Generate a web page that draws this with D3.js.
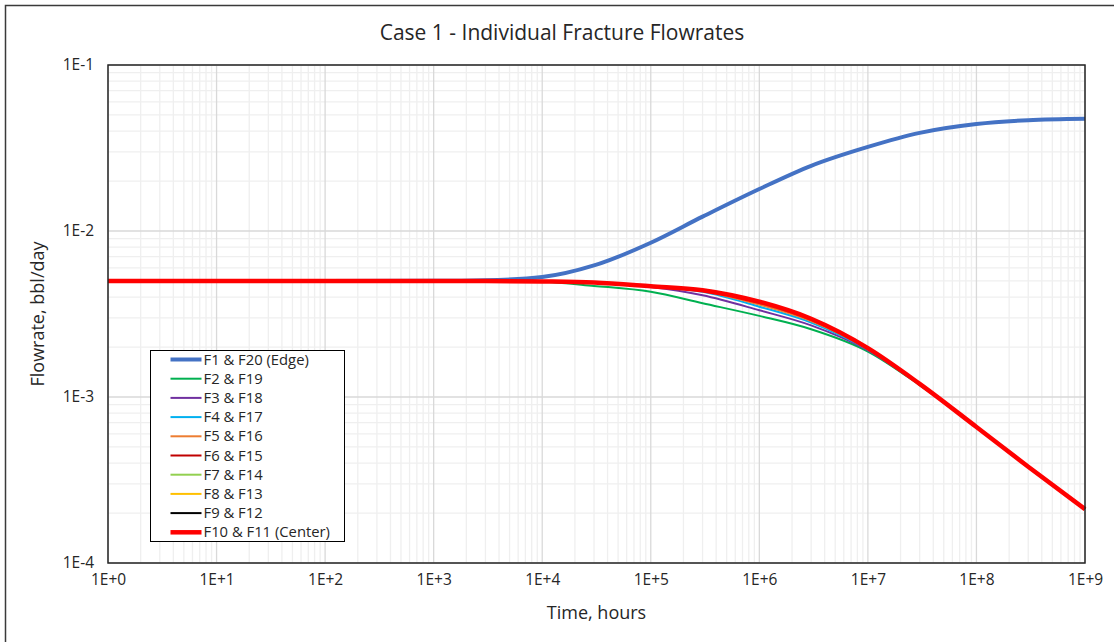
<!DOCTYPE html>
<html>
<head>
<meta charset="utf-8">
<script src="https://cdn.jsdelivr.net/npm/d3@7"></script>
<style>
  body { margin: 0; background: #fff; }
  text { font-family: "Open Sans", "Liberation Sans", sans-serif; fill: #262626; }
</style>
</head>
<body>
<div class="chart-wrapper"></div>
<script>
// time, hours
const times = [1, 1e1, 1e2, 1e3, 3e3, 1e4, 3e4, 1e5, 3e5, 1e6, 3e6, 1e7, 3e7, 1e8, 3e8, 1e9]

// flowrates, bbl/day
const edge   = [0.005, 0.005, 0.005, 0.00501, 0.00505, 0.00528, 0.0062, 0.0085, 0.0122, 0.0179, 0.0247, 0.0321, 0.039, 0.0441, 0.0465, 0.0474]
const f2     = [0.005, 0.005, 0.005, 0.005, 0.005, 0.00495, 0.00467, 0.0043, 0.00367, 0.00308, 0.00256, 0.00188, 0.00118, 0.00066, 0.00038, 0.000211]
const f3     = [0.005, 0.005, 0.005, 0.005, 0.005, 0.00497, 0.0049, 0.0046, 0.0041, 0.00333, 0.0027, 0.00191, 0.00119, 0.00066, 0.00038, 0.000211]
const f4     = [0.005, 0.005, 0.005, 0.005, 0.005, 0.00497, 0.0049, 0.00463, 0.0043, 0.0035, 0.00281, 0.00193, 0.0012, 0.00066, 0.00038, 0.000211]
const f5     = [0.005, 0.005, 0.005, 0.005, 0.005, 0.00497, 0.0049, 0.00464, 0.00435, 0.0036, 0.00287, 0.00195, 0.0012, 0.00066, 0.00038, 0.000211]
const f6     = [0.005, 0.005, 0.005, 0.005, 0.005, 0.00497, 0.0049, 0.00465, 0.00437, 0.0037, 0.00292, 0.00196, 0.0012, 0.00066, 0.00038, 0.000211]
const f7     = [0.005, 0.005, 0.005, 0.005, 0.005, 0.00497, 0.0049, 0.00465, 0.00438, 0.0037, 0.00293, 0.00196, 0.0012, 0.00066, 0.00038, 0.000211]
const f8     = [0.005, 0.005, 0.005, 0.005, 0.005, 0.00497, 0.0049, 0.00465, 0.00439, 0.00373, 0.00294, 0.00197, 0.0012, 0.00066, 0.00038, 0.000211]
const f9     = [0.005, 0.005, 0.005, 0.005, 0.005, 0.00497, 0.0049, 0.00465, 0.0044, 0.00374, 0.00295, 0.00197, 0.0012, 0.00066, 0.00038, 0.000211]
const center = [0.005, 0.005, 0.005, 0.005, 0.005, 0.00497, 0.0049, 0.00465, 0.0044, 0.00375, 0.00296, 0.00197, 0.0012, 0.00066, 0.00038, 0.000211]

const seriesNames = ['F1 & F20 (Edge)', 'F2 & F19', 'F3 & F18', 'F4 & F17', 'F5 & F16', 'F6 & F15', 'F7 & F14', 'F8 & F13', 'F9 & F12', 'F10 & F11 (Center)']
const seriesColors = ['#4472c4', '#00b050', '#7030a0', '#00b0f0', '#ed7d31', '#c00000', '#92d050', '#ffc000', '#000000', '#ff0000']
const seriesWidths = [4, 2, 2, 2, 2, 2, 2, 2, 2, 4.5]
const seriesValues = [edge, f2, f3, f4, f5, f6, f7, f8, f9, center]

const xTicks = [1, 1e1, 1e2, 1e3, 1e4, 1e5, 1e6, 1e7, 1e8, 1e9]
const xTickLabels = ['1E+0', '1E+1', '1E+2', '1E+3', '1E+4', '1E+5', '1E+6', '1E+7', '1E+8', '1E+9']
const yTicks = [1e-4, 1e-3, 1e-2, 1e-1]
const yTickLabels = ['1E-4', '1E-3', '1E-2', '1E-1']

const width = 1114, height = 642
const margin = {left: 108, right: 29, top: 65, bottom: 79}

const svg = d3.select('.chart-wrapper')
.append('svg')
.attr('width', width)
.attr('height', height)

// outer chart frame
svg.append('rect')
.attr('x', 5.5).attr('y', 5.5)
.attr('width', width + 10).attr('height', height + 10)
.attr('fill', 'none')
.attr('stroke', '#3a3a3a')
.attr('stroke-width', 1.5)

let x = d3.scaleLog()
.domain([1, 1e9])
.range([margin.left, width - margin.right])

let y = d3.scaleLog()
.domain([1e-4, 1e-1])
.range([height - margin.bottom, margin.top])

// minor + major gridlines
let minorX = [], minorY = []
for (let e = 0; e < 9; e++) for (let m = 2; m < 10; m++) minorX.push(m * Math.pow(10, e))
for (let e = -4; e < -1; e++) for (let m = 2; m < 10; m++) minorY.push(m * Math.pow(10, e))

const grid = svg.append('g')

grid.selectAll('.minor-x')
.data(minorX)
.enter()
.append('line')
.attr('x1', d => x(d)).attr('x2', d => x(d))
.attr('y1', y.range()[0]).attr('y2', y.range()[1])
.attr('stroke', '#efefef')
.attr('stroke-width', 1.3)

grid.selectAll('.minor-y')
.data(minorY)
.enter()
.append('line')
.attr('y1', d => y(d)).attr('y2', d => y(d))
.attr('x1', x.range()[0]).attr('x2', x.range()[1])
.attr('stroke', '#efefef')
.attr('stroke-width', 1.3)

grid.selectAll('.major-x')
.data(xTicks)
.enter()
.append('line')
.attr('x1', d => x(d)).attr('x2', d => x(d))
.attr('y1', y.range()[0]).attr('y2', y.range()[1])
.attr('stroke', '#d9d9d9')
.attr('stroke-width', 1.3)

grid.selectAll('.major-y')
.data(yTicks)
.enter()
.append('line')
.attr('y1', d => y(d)).attr('y2', d => y(d))
.attr('x1', x.range()[0]).attr('x2', x.range()[1])
.attr('stroke', '#d9d9d9')
.attr('stroke-width', 1.3)

// axes (labels only, Excel style)
const xAxis = svg.append('g')
.attr('transform', `translate(0,${height - margin.bottom})`)
.call(d3.axisBottom(x).tickValues(xTicks).tickFormat((d, i) => xTickLabels[i]).tickSize(0).tickPadding(11))
xAxis.select('.domain').remove()
xAxis.selectAll('text').style('font-size', '15.5px').style('font-family', '"Open Sans", sans-serif').attr('fill', '#404040')

const yAxis = svg.append('g')
.attr('transform', `translate(${margin.left},0)`)
.call(d3.axisLeft(y).tickValues(yTicks).tickFormat((d, i) => yTickLabels[i]).tickSize(0).tickPadding(14))
yAxis.select('.domain').remove()
yAxis.selectAll('text').style('font-size', '15.5px').style('font-family', '"Open Sans", sans-serif').attr('fill', '#404040')

// lines
let line = d3.line()
.x(d => x(d[0]))
.y(d => y(d[1]))
.curve(d3.curveMonotoneX)

const drawOrder = [1, 2, 3, 4, 5, 6, 7, 8, 0, 9]

svg.append('g')
.selectAll('path')
.data(drawOrder)
.enter()
.append('path')
.attr('d', i => line(times.map((t, j) => [t, seriesValues[i][j]])))
.attr('fill', 'none')
.attr('stroke', i => seriesColors[i])
.attr('stroke-width', i => seriesWidths[i])
.attr('stroke-linejoin', 'round')

// plot border
svg.append('rect')
.attr('x', x.range()[0]).attr('y', y.range()[1])
.attr('width', x.range()[1] - x.range()[0])
.attr('height', y.range()[0] - y.range()[1])
.attr('fill', 'none')
.attr('stroke', '#262626')
.attr('stroke-width', 1.5)

// legend
const legend = svg.append('g').attr('transform', 'translate(150.5,350.5)')

legend.append('rect')
.attr('width', 194).attr('height', 191)
.attr('fill', '#fff')
.attr('stroke', '#000')
.attr('stroke-width', 1)

const items = legend.selectAll('.item')
.data(seriesNames)
.enter()
.append('g')
.attr('transform', (d, i) => `translate(0,${9 + i * 19.2})`)

items.append('line')
.attr('x1', 20).attr('x2', 51)
.attr('stroke', (d, i) => seriesColors[i])
.attr('stroke-width', (d, i) => seriesWidths[i])

items.append('text')
.attr('x', 53)
.attr('dy', '0.35em')
.style('font-size', '14.8px')
.text(d => d)

// titles
svg.append('text')
.attr('x', 562).attr('y', 40)
.attr('text-anchor', 'middle')
.style('font-size', '21px')
.text('Case 1 - Individual Fracture Flowrates')

svg.append('text')
.attr('x', (x.range()[0] + x.range()[1]) / 2).attr('y', 619)
.attr('text-anchor', 'middle')
.style('font-size', '18px')
.text('Time, hours')

svg.append('text')
.attr('transform', `translate(44,${(y.range()[0] + y.range()[1]) / 2}) rotate(-90)`)
.attr('text-anchor', 'middle')
.style('font-size', '18px')
.text('Flowrate, bbl/day')
</script>
</body>
</html>
